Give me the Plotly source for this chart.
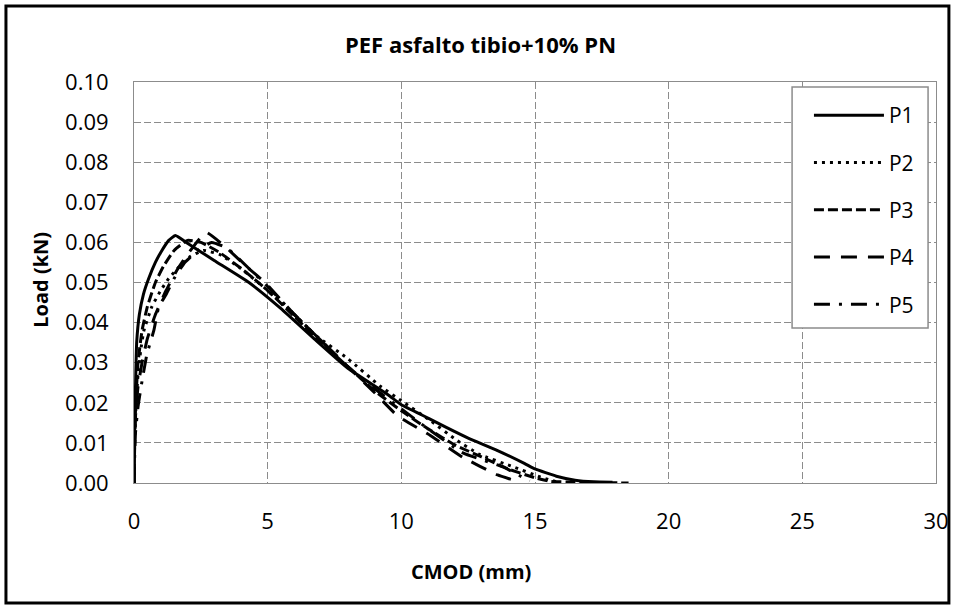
import plotly.graph_objects as go

# ---- data (CMOD mm, Load kN) ----
p1_x = [0, 0.03, 0.06, 0.1, 0.2, 0.35, 0.55, 0.8, 1.0, 1.3, 1.55, 2.0, 3.0, 4.3, 5.5, 6.8, 8.0, 9.5, 10.0, 11.0, 11.7, 12.5, 13.6, 14.6, 15.0, 15.8, 16.5, 17.2, 17.9]
p1_y = [0, 0.015, 0.025, 0.035, 0.042, 0.047, 0.051, 0.055, 0.0575, 0.0605, 0.0617, 0.0598, 0.0555, 0.050, 0.0435, 0.0356, 0.0286, 0.022, 0.0195, 0.0162, 0.0138, 0.0112, 0.0081, 0.0049, 0.0035, 0.0017, 0.0007, 0.0003, 0.0002]

p2_x = [0, 0.03, 0.08, 0.15, 0.25, 0.37, 0.67, 1.0, 1.3, 1.7, 2.1, 2.6, 3.2, 4.0, 5.0, 6.0, 6.8, 8.0, 9.2, 10.0, 11.1, 12.0, 12.9, 14.2, 15.2, 15.8]
p2_y = [0, 0.012, 0.02, 0.027, 0.033, 0.038, 0.044, 0.048, 0.051, 0.054, 0.0565, 0.058, 0.057, 0.0535, 0.048, 0.042, 0.0368, 0.031, 0.0242, 0.0205, 0.0155, 0.011, 0.0072, 0.004, 0.0015, 0.0003]

p3_x = [0, 0.03, 0.08, 0.15, 0.3, 0.5, 0.8, 1.1, 1.5, 2.0, 2.5, 3.2, 4.2, 5.0, 6.0, 7.0, 8.0, 9.0, 10.0, 11.0, 12.0, 13.0, 14.0, 15.0, 15.6, 16.5, 17.5, 18.5]
p3_y = [0, 0.014, 0.022, 0.03, 0.038, 0.044, 0.050, 0.054, 0.058, 0.0605, 0.060, 0.0575, 0.0525, 0.048, 0.0415, 0.035, 0.029, 0.023, 0.018, 0.0135, 0.0095, 0.0065, 0.0035, 0.0013, 0.0004, 0.0002, 0.0001, 0.0]

p4_x = [0, 0.05, 0.15, 0.3, 0.5, 0.8, 1.2, 1.6, 2.0, 2.4, 2.7, 3.4, 4.2, 4.9, 6.0, 7.0, 8.0, 9.0, 9.85, 11.1, 12.3, 13.6, 14.4]
p4_y = [0, 0.016, 0.024, 0.030, 0.036, 0.042, 0.048, 0.053, 0.057, 0.0605, 0.0625, 0.059, 0.054, 0.050, 0.042, 0.0355, 0.029, 0.0225, 0.0168, 0.0118, 0.0064, 0.002, 0.0003]

p5_x = [0, 0.05, 0.15, 0.3, 0.48, 0.74, 0.93, 1.2, 1.5, 1.9, 2.4, 2.9, 3.5, 4.3, 5.0, 6.0, 7.0, 8.0, 9.0, 10.0, 11.0, 12.3, 13.8, 14.8]
p5_y = [0, 0.012, 0.019, 0.0254, 0.032, 0.038, 0.044, 0.047, 0.051, 0.055, 0.058, 0.060, 0.0585, 0.0535, 0.049, 0.042, 0.0355, 0.029, 0.0235, 0.0185, 0.0135, 0.0075, 0.004, 0.0005]

series_names = ["P1", "P2", "P3", "P4", "P5"]
series_x = [p1_x, p2_x, p3_x, p4_x, p5_x]
series_y = [p1_y, p2_y, p3_y, p4_y, p5_y]
dashes = ["solid", "3px,5px", "10px,4px", "16px,11px", "16px,9px,3px,9px"]

FONT = "Open Sans"
GRID = "#8c8c8c"

# plot-area geometry (px) used for paper-coordinate conversions
W, H = 961, 607
L, R, T, B = 134, 942, 82, 483
PW, PH = R - L, B - T


def px(xp):
    return (xp - L) / PW


def py(yp):
    return (B - yp) / PH


fig = go.Figure()
for n, xs, ys, d in zip(series_names, series_x, series_y, dashes):
    fig.add_trace(go.Scatter(
        x=xs, y=ys, mode="lines", name=n, legendgroup=n,
        line=dict(color="black", width=3, dash=d, shape="spline", smoothing=0.4),
    ))

fig.update_layout(
    width=W, height=H,
    margin=dict(l=L, r=W - R, t=T, b=H - B),
    paper_bgcolor="white", plot_bgcolor="white",
    font=dict(family=FONT, size=22, color="black"),
    title=dict(text="<b>PEF asfalto tibio+10% PN</b>", x=0.5, xref="container",
               y=1 - 45 / H, yref="container", xanchor="center", yanchor="middle",
               font=dict(family=FONT, size=22, color="black")),
    showlegend=True,
    legend=dict(x=px(814), y=py(95), xanchor="left", yanchor="top",
                borderwidth=0, bgcolor="rgba(0,0,0,0)",
                traceorder="grouped", tracegroupgap=17, itemwidth=70,
                font=dict(family=FONT, size=21, color="black")),
    xaxis=dict(range=[0, 30], dtick=5, tick0=0, showgrid=True, gridcolor=GRID,
               griddash="7px,3px", gridwidth=1, showline=True, linecolor=GRID,
               linewidth=1, mirror=True, zeroline=False, ticks="",
               ticklabelstandoff=19, tickfont=dict(size=22)),
    yaxis=dict(range=[0, 0.1], dtick=0.01, tick0=0, tickformat=".2f",
               showgrid=True, gridcolor=GRID, griddash="7px,3px", gridwidth=1,
               showline=True, linecolor=GRID, linewidth=1, mirror=True,
               zeroline=False, ticks="", ticklabelstandoff=20, tickfont=dict(size=22)),
)

# axis titles
fig.add_annotation(text="<b>CMOD (mm)</b>", xref="paper", yref="paper",
                   x=px(474), y=py(571), showarrow=False,
                   xanchor="center", yanchor="middle",
                   font=dict(family=FONT, size=20, color="black"))
fig.add_annotation(text="<b>Load (kN)</b>", xref="paper", yref="paper",
                   x=px(39), y=py(280), showarrow=False, textangle=-90,
                   xanchor="center", yanchor="middle",
                   font=dict(family=FONT, size=20, color="black"))

# legend frame
fig.add_shape(type="rect", xref="paper", yref="paper",
              x0=px(797), x1=px(934), y0=py(328), y1=py(87),
              line=dict(color="#8c8c8c", width=1.5), fillcolor="white", layer="above")

# outer chart frame
fig.add_shape(type="rect", xref="paper", yref="paper",
              x0=px(5), x1=px(955), y0=py(603), y1=py(6),
              line=dict(color="black", width=3), fillcolor="rgba(0,0,0,0)", layer="below")

fig.write_html("out.html")
